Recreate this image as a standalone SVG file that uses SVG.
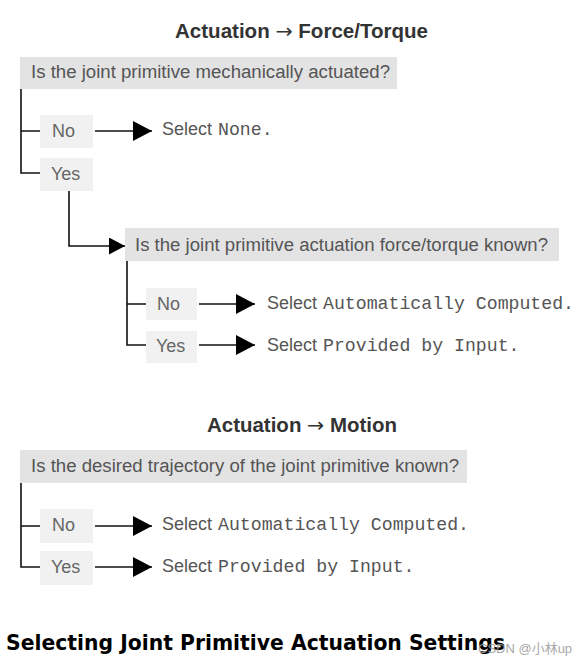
<svg xmlns="http://www.w3.org/2000/svg" width="587" height="666" viewBox="0 0 587 666">
<style>
.title{font-family:"Liberation Sans",Arial,sans-serif;font-weight:bold;font-size:20px;fill:#333}
.arr{font-family:"DejaVu Sans",sans-serif;font-weight:normal}
.q{fill:#e3e3e4}
.a{fill:#f1f1f1}
.qt{font-family:"Liberation Sans",Arial,sans-serif;font-size:18px;fill:#555}
.at{font-family:"Liberation Sans",Arial,sans-serif;font-size:18px;fill:#666}
.sans{font-family:"Liberation Sans",Arial,sans-serif;font-size:18px;fill:#555}
.mono{font-family:"Liberation Mono","Courier New",monospace;font-size:18.2px;fill:#555}
.ln{fill:none;stroke:#111;stroke-width:1.6}
.main{font-family:"DejaVu Sans",sans-serif;font-weight:bold;font-size:22px;fill:#000}
.wm{font-family:"Liberation Sans","Noto Sans CJK SC",sans-serif;font-size:13px;fill:#999;opacity:0.85}
</style>
<defs>
<marker id="ah" markerUnits="userSpaceOnUse" markerWidth="19" markerHeight="20" refX="19" refY="10" orient="auto" viewBox="0 0 19 20">
<path d="M0,0 L19,10 L0,20 z" fill="#000"/>
</marker>
<marker id="ahs" markerUnits="userSpaceOnUse" markerWidth="16" markerHeight="17" refX="16" refY="8.5" orient="auto" viewBox="0 0 16 17">
<path d="M0,0 L16,8.5 L0,17 z" fill="#000"/>
</marker>
</defs>

<text class="title" x="175" y="38" textLength="253" lengthAdjust="spacingAndGlyphs">Actuation <tspan class="arr">→</tspan> Force/Torque</text>
<text class="title" x="207" y="432" textLength="190" lengthAdjust="spacingAndGlyphs">Actuation <tspan class="arr">→</tspan> Motion</text>

<g id="connectors">
<path class="ln" d="M21,89 V173 H40 M21,131 H40"/>
<line class="ln" x1="95" y1="131" x2="152" y2="131" marker-end="url(#ah)"/>
<path class="ln" d="M69,191 V246 H125" marker-end="url(#ahs)"/>
<path class="ln" d="M127,261 V345 H146 M127,304 H146"/>
<line class="ln" x1="199" y1="304" x2="255" y2="304" marker-end="url(#ah)"/>
<line class="ln" x1="199" y1="345" x2="255" y2="345" marker-end="url(#ah)"/>
<path class="ln" d="M21,483 V567 H40 M21,526 H40"/>
<line class="ln" x1="95" y1="526" x2="152" y2="526" marker-end="url(#ah)"/>
<line class="ln" x1="95" y1="567" x2="152" y2="567" marker-end="url(#ah)"/>
</g>

<g id="q1">
<rect class="q" x="20" y="57" width="377" height="32"/>
<text class="qt" x="31" y="78" textLength="359" lengthAdjust="spacingAndGlyphs">Is the joint primitive mechanically actuated?</text>
</g>
<g id="q1-no">
<rect class="a" x="40" y="115" width="53" height="33"/>
<text class="at" x="52" y="137">No</text>
</g>
<g id="q1-yes">
<rect class="a" x="40" y="158" width="53" height="33"/>
<text class="at" x="51" y="180">Yes</text>
</g>
<g id="r-none">
<text x="162" y="135"><tspan class="sans">Select</tspan><tspan class="mono" x="218">None.</tspan></text>
</g>

<g id="q2">
<rect class="q" x="125" y="228" width="434" height="33"/>
<text class="qt" x="135" y="251" textLength="413" lengthAdjust="spacingAndGlyphs">Is the joint primitive actuation force/torque known?</text>
</g>
<g id="q2-no">
<rect class="a" x="146" y="288" width="51" height="32"/>
<text class="at" x="157" y="310">No</text>
</g>
<g id="q2-yes">
<rect class="a" x="146" y="331" width="51" height="32"/>
<text class="at" x="156" y="352">Yes</text>
</g>
<g id="r-auto1">
<text x="267" y="309"><tspan class="sans">Select</tspan><tspan class="mono" x="323">Automatically Computed.</tspan></text>
</g>
<g id="r-input1">
<text x="267" y="351"><tspan class="sans">Select</tspan><tspan class="mono" x="323">Provided by Input.</tspan></text>
</g>

<g id="q3">
<rect class="q" x="20" y="450" width="447" height="33"/>
<text class="qt" x="31" y="472" textLength="428" lengthAdjust="spacingAndGlyphs">Is the desired trajectory of the joint primitive known?</text>
</g>
<g id="q3-no">
<rect class="a" x="40" y="509" width="53" height="34"/>
<text class="at" x="52" y="531">No</text>
</g>
<g id="q3-yes">
<rect class="a" x="40" y="551" width="53" height="34"/>
<text class="at" x="51" y="573">Yes</text>
</g>
<g id="r-auto2">
<text x="162" y="530"><tspan class="sans">Select</tspan><tspan class="mono" x="218">Automatically Computed.</tspan></text>
</g>
<g id="r-input2">
<text x="162" y="572"><tspan class="sans">Select</tspan><tspan class="mono" x="218">Provided by Input.</tspan></text>
</g>

<text class="main" x="6" y="650" textLength="499" lengthAdjust="spacingAndGlyphs">Selecting Joint Primitive Actuation Settings</text>
<text class="wm" x="478" y="653">CSDN @小林up</text>
</svg>
